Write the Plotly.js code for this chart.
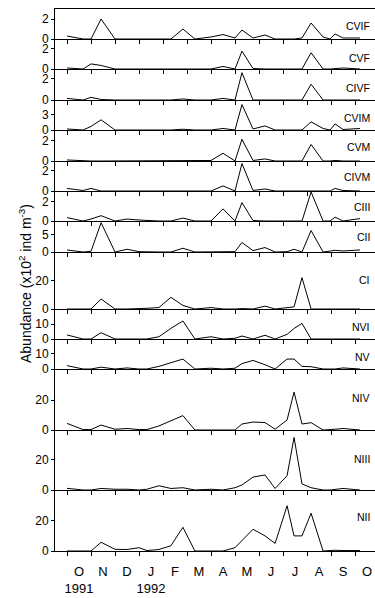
<!DOCTYPE html>
<html>
<head>
<meta charset="utf-8">
<script src="https://cdn.plot.ly/plotly-3.0.1.min.js"></script>
<style>html,body{margin:0;padding:0;background:#fff;}#chart{width:375px;height:598px;}</style>
</head>
<body>
<div id="chart"></div>
<script>
// Sampling times, in months since 1 October 1991
const sampleMonth = [0, 0.67, 1.0, 1.42, 2.0, 2.5, 3.0, 3.33, 3.83, 4.33, 4.83, 5.33, 6.0, 6.5, 7.0, 7.29, 7.75, 8.25, 8.67, 9.17, 9.46, 9.79, 10.17, 10.67, 10.96, 11.17, 11.5, 12.21];

// Stage names, top to bottom
const stages = ['CVIF', 'CVF', 'CIVF', 'CVIM', 'CVM', 'CIVM', 'CIII', 'CII', 'CI', 'NVI', 'NV', 'NIV', 'NIII', 'NII'];

// Abundance (x10^2 ind m^-3)
const CVIF = [0.3, 0, 0, 2.0, 0, 0, 0, 0, 0, 0, 1.0, 0, 0.2, 0.45, 0.1, 0.9, 0.1, 0.4, 0, 0, 0, 0.1, 1.6, 0.2, 0, 0.5, 0.1, 0.1];
const CVF  = [0.1, 0, 0.5, 0.35, 0, 0, 0, 0, 0, 0, 0.05, 0, 0, 0.25, 0, 1.75, 0.05, 0, 0, 0, 0, 0, 1.6, 0, 0, 0.05, 0.1, 0];
const CIVF = [0.15, 0, 0.25, 0.05, 0, 0, 0, 0, 0, 0, 0.1, 0, 0, 0.15, 0, 2.6, 0, 0, 0, 0, 0.05, 0, 1.5, 0, 0, 0, 0, 0];
const CVIM = [0.2, 0, 0.7, 2.0, 0, 0, 0, 0, 0, 0, 0.15, 0, 0, 0.3, 0, 5.0, 0.2, 0.8, 0, 0, 0, 0, 1.6, 0.3, 0, 1.2, 0.1, 0.3];
const CVM  = [0.1, 0, 0, 0, 0, 0, 0, 0, 0, 0, 0, 0, 0.05, 0.75, 0, 2.1, 0.05, 0.2, 0, 0, 0, 0, 1.6, 0, 0, 0.05, 0, 0];
const CIVM = [0.25, 0.05, 0.25, 0, 0, 0, 0, 0, 0, 0, 0, 0, 0, 0.5, 0, 2.7, 0.05, 0.2, 0, 0, 0, 0, 0.05, 0, 0, 0.25, 0.05, 0];
const CIII = [0.35, 0, 0.2, 0.55, 0, 0.2, 0.1, 0.05, 0, 0, 0.3, 0, 0, 1.25, 0, 1.9, 0.05, 0, 0, 0.05, 0, 0, 3.0, 0, 0, 0.4, 0, 0.25];
const CII  = [0.6, 0, 0.2, 8.6, 0, 0.8, 0.1, 0, 0, 0, 1.1, 0, 0, 0, 0.1, 2.8, 0.4, 1.3, 0, 0.1, 0.8, 0, 6.3, 0, 0.2, 0.5, 0.3, 0.6];
const CI   = [0, 0, 0, 7, 0, 0, 0, 0.5, 1.0, 8.2, 2.5, 0, 1.0, 0, 0, 0.3, 0, 2.0, 0, 1.0, 1.5, 22, 0, 0, 0, 0, 0, 0];
const NVI  = [2.7, 0, 0, 4.2, 0, 0, 0, 0, 1.5, 7.1, 12, 0, 1.5, 0, 0.5, 2, 0, 2.5, 0, 3.1, 7, 10.4, 0, 0, 0, 0, 0, 0];
const NV   = [2.2, 0, 0, 1.2, 0, 0.7, 0, 0, 1.7, 4, 6.5, 0, 0.5, 0, 0.5, 3.5, 5.6, 2.8, 0, 6.5, 6.5, 1.7, 1.5, 0, 0, 0, 0.7, 0];
const NIV  = [4.4, 0.3, 0.3, 3.3, 0.5, 1, 0.3, 0.3, 2.7, 6, 9.6, 0, 0, 0, 0, 4, 5.3, 5, 0.5, 6.7, 25.3, 4, 4.9, 0, 0, 0.5, 1, 0];
const NIII = [1.1, 0, 0, 1, 0.5, 0.5, 0, 0.5, 2.8, 1, 1.5, 0, 0.5, 0, 1.5, 3.3, 8.5, 9.9, 1, 9.4, 34.6, 4, 1.5, 0, 0, 0.5, 1, 0];
const NII  = [0, 0, 0, 5.8, 1.1, 1, 2.2, 0.3, 1, 3.5, 15.7, 0, 0, 0, 2.2, 7, 14.4, 10, 5, 30, 10, 10, 25, 0, 0.3, 0.5, 0.3, 0.3];

const seriesValues = [CVIF, CVF, CIVF, CVIM, CVM, CIVM, CIII, CII, CI, NVI, NV, NIV, NIII, NII];

// Axis tick labels
const monthTicks = [0, 1, 2, 3, 4, 5, 6, 7, 8, 9, 10, 11, 12];
const monthLabels = ['O<br>1991', 'N', 'D', 'J<br>1992', 'F', 'M', 'A', 'M', 'J', 'J', 'A', 'S', 'O'];
const yTickTop = [2, 2, 2, 3, 2, 2, 2, 5, 20, 10, 10, 20, 20, 20];

// ---- layout configuration (pixels) ----
const W = 375, H = 598, ML = 55, MT = 9, MB = 47;
const plotH = H - MT - MB;
const panelH = [30, 30, 31, 30, 31, 30, 30, 31, 57, 30, 30, 61, 60, 61];
const yMax = [3, 2.95, 2.95, 5.9, 3, 2.95, 3.1, 9.1, 40, 20, 19.6, 40.7, 39.5, 40.4];
const labelCenterPx = [25.7, 58, 88, 118, 147, 177, 207, 237, 280, 327, 357, 398, 459, 517];

const traces = [];
const layout = {
  width: W, height: H,
  margin: {l: ML, r: 0, t: MT, b: MB, pad: 0},
  showlegend: false,
  paper_bgcolor: '#fff', plot_bgcolor: '#fff',
  font: {family: 'Liberation Sans, Arial, sans-serif', color: '#000', size: 12},
  annotations: []
};

let topPx = MT;
for (let i = 0; i < stages.length; i++) {
  const k = i + 1;
  const sfx = k === 1 ? '' : String(k);
  const botPx = topPx + panelH[i];
  const d0 = (H - MB - botPx) / plotH;
  const d1 = (H - MB - topPx) / plotH;
  traces.push({
    type: 'scatter', mode: 'lines',
    x: sampleMonth, y: seriesValues[i],
    xaxis: 'x' + sfx, yaxis: 'y' + sfx,
    line: {color: '#000', width: 1},
    hoverinfo: 'skip'
  });
  layout['xaxis' + sfx] = {
    domain: [0, 1], anchor: 'y' + sfx,
    range: [-0.5, 12.833],
    showline: true, linecolor: '#000', linewidth: 1,
    mirror: i === 0,
    ticks: 'outside', ticklen: 4, tickwidth: 1, tickcolor: '#000',
    tickmode: 'array', tickvals: monthTicks, ticktext: monthLabels,
    showticklabels: i === stages.length - 1,
    ticklabelshift: 12, ticklabelstandoff: 4,
    tickfont: {size: 13},
    showgrid: false, zeroline: false, fixedrange: true
  };
  layout['yaxis' + sfx] = {
    domain: [d0, d1], anchor: 'x' + sfx,
    range: [0, yMax[i]],
    showline: true, linecolor: '#000', linewidth: 1,
    ticks: 'outside', ticklen: 3, tickwidth: 1, tickcolor: '#000',
    tickmode: 'array', tickvals: [0, yTickTop[i]],
    tickfont: {size: 12},
    showgrid: false, zeroline: false, fixedrange: true
  };
  layout.annotations.push({
    xref: 'paper', yref: 'paper',
    x: 0.99, y: (H - MB - labelCenterPx[i]) / plotH,
    xanchor: 'right', yanchor: 'middle',
    text: stages[i], showarrow: false,
    font: {size: 10.5}
  });
  topPx = botPx;
}

layout.annotations.push({
  xref: 'paper', yref: 'paper',
  x: (25 - ML) / (W - ML), y: (H - MB - 284) / plotH,
  xanchor: 'center', yanchor: 'middle',
  textangle: -90, showarrow: false,
  text: 'Abundance (x10<sup>2</sup> ind m<sup>-3</sup>)',
  font: {size: 14}
});

Plotly.newPlot('chart', traces, layout, {staticPlot: true, displayModeBar: false});
</script>
</body>
</html>
